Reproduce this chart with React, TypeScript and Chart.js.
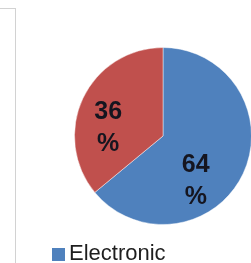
import React, { useEffect, useRef } from "react";
import { Chart, registerables } from "chart.js";

Chart.register(...registerables);

const categories = ["Electronic", "Paper"];
const values = [64, 36];
const colors = ["#4F81BD", "#C0504D"];
const labelTexts = ["64", "36"];

// label anchor offsets as fractions of the pie radius (Excel "best fit" placement)
const labelOffsets = [
  [0.37, 0.51],
  [-0.62, -0.09],
];

const pieLabels = {
  id: "pieLabels",
  afterDatasetsDraw(chart: any) {
    const meta = chart.getDatasetMeta(0);
    const ctx = chart.ctx;
    ctx.save();
    ctx.font = "bold 25px 'Liberation Sans', Arial, sans-serif";
    ctx.fillStyle = "#15151f";
    ctx.textAlign = "center";
    ctx.textBaseline = "middle";
    meta.data.forEach((arc: any, i: number) => {
      const r = arc.outerRadius;
      const cx = arc.x + labelOffsets[i][0] * r;
      const cy = arc.y + labelOffsets[i][1] * r;
      ctx.fillText(labelTexts[i], cx, cy - 16);
      ctx.fillText("%", cx, cy + 16);
    });
    ctx.restore();
  },
};

export default function App() {
  const canvasRef = useRef<HTMLCanvasElement | null>(null);

  useEffect(() => {
    if (!canvasRef.current) return;
    const chart = new Chart(canvasRef.current, {
      type: "pie",
      data: {
        labels: categories,
        datasets: [
          {
            data: values,
            backgroundColor: colors,
            borderColor: "rgba(255,255,255,0.45)",
            borderWidth: 1,
          },
        ],
      },
      options: {
        responsive: false,
        animation: false,
        layout: { padding: { left: 74, top: 47, right: 48, bottom: 38 } },
        plugins: {
          legend: { display: false },
          tooltip: { enabled: false },
        },
      },
      plugins: [pieLabels],
    });
    return () => chart.destroy();
  }, []);

  return (
    <div
      style={{
        position: "absolute",
        left: 0,
        top: 0,
        width: 251,
        height: 263,
        overflow: "hidden",
        background: "#fff",
      }}
    >
      <div
        style={{
          position: "absolute",
          left: -100,
          top: 8,
          width: 116,
          height: 300,
          boxSizing: "border-box",
          border: "1px solid #d2d2d2",
        }}
      />
      <canvas
        ref={canvasRef}
        width={300}
        height={263}
        style={{ position: "absolute", left: 0, top: 0, width: 300, height: 263 }}
      />
      <div
        style={{
          position: "absolute",
          left: 52,
          top: 242,
          display: "flex",
          alignItems: "center",
          whiteSpace: "nowrap",
          fontFamily: "'Liberation Sans', Arial, sans-serif",
          fontSize: 22,
          color: "#1e1e1e",
          lineHeight: "22px",
        }}
      >
        {categories.map((c, i) => (
          <span key={c} style={{ display: "flex", alignItems: "center", marginRight: 100 }}>
            <span
              style={{
                display: "inline-block",
                width: 13,
                height: 13,
                background: colors[i],
                marginRight: 4,
                marginTop: 3,
              }}
            />
            <span>{c}</span>
          </span>
        ))}
      </div>
    </div>
  );
}
